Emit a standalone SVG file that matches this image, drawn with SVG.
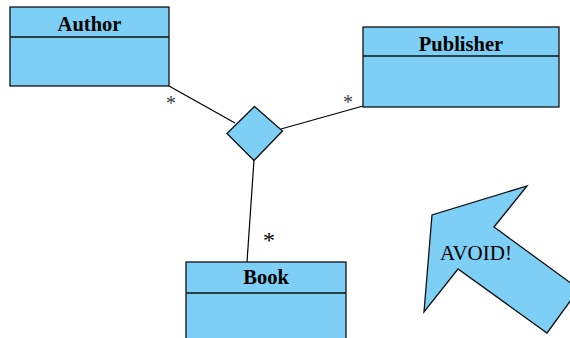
<svg xmlns="http://www.w3.org/2000/svg" width="570" height="338" viewBox="0 0 570 338">
<style>
.box{fill:#7dcff5;stroke:#111;stroke-width:1.3}
.sep{stroke:#111;stroke-width:1.3}
.title{font-family:"Liberation Serif",serif;font-weight:bold;font-size:20.5px;text-anchor:middle;fill:#000}
.edge{stroke:#000;stroke-width:1.2;fill:none}
.mult{font-family:"Liberation Serif",serif;font-size:20px;fill:#444;text-anchor:middle}
.multb{font-family:"Liberation Serif",serif;font-size:24px;fill:#000;text-anchor:middle}
</style>
<rect width="570" height="338" fill="#fff"/>
<g id="connectors">
<line class="edge" x1="169" y1="86" x2="235" y2="123"/>
<line class="edge" x1="363" y1="106" x2="281" y2="129"/>
<line class="edge" x1="254" y1="160" x2="247" y2="262"/>
<text class="mult" x="171" y="110">*</text>
<text class="mult" x="348" y="109">*</text>
<text class="multb" x="269" y="248">*</text>
</g>
<g id="author">
<rect class="box" x="10" y="7" width="159" height="79"/>
<line class="sep" x1="10" y1="37" x2="169" y2="37"/>
<text class="title" x="89.5" y="31">Author</text>
</g>
<g id="publisher">
<rect class="box" x="363" y="27" width="196" height="80"/>
<line class="sep" x1="363" y1="56" x2="559" y2="56"/>
<text class="title" x="461" y="51">Publisher</text>
</g>
<g id="association">
<polygon class="box" points="254.5,106.5 282.5,131 254,160.5 227,133.5"/>
</g>
<g id="book">
<rect class="box" x="186" y="262" width="160" height="90"/>
<line class="sep" x1="186" y1="293" x2="346" y2="293"/>
<text class="title" x="266" y="284">Book</text>
</g>
<g id="avoid">
<polygon class="box" points="527,186 494,227 579,289 547,333 458,269 424,312 432,215"/>
<text x="440" y="260" font-family="Liberation Serif,serif" font-size="21" fill="#000">AVOID!</text>
</g>
</svg>
